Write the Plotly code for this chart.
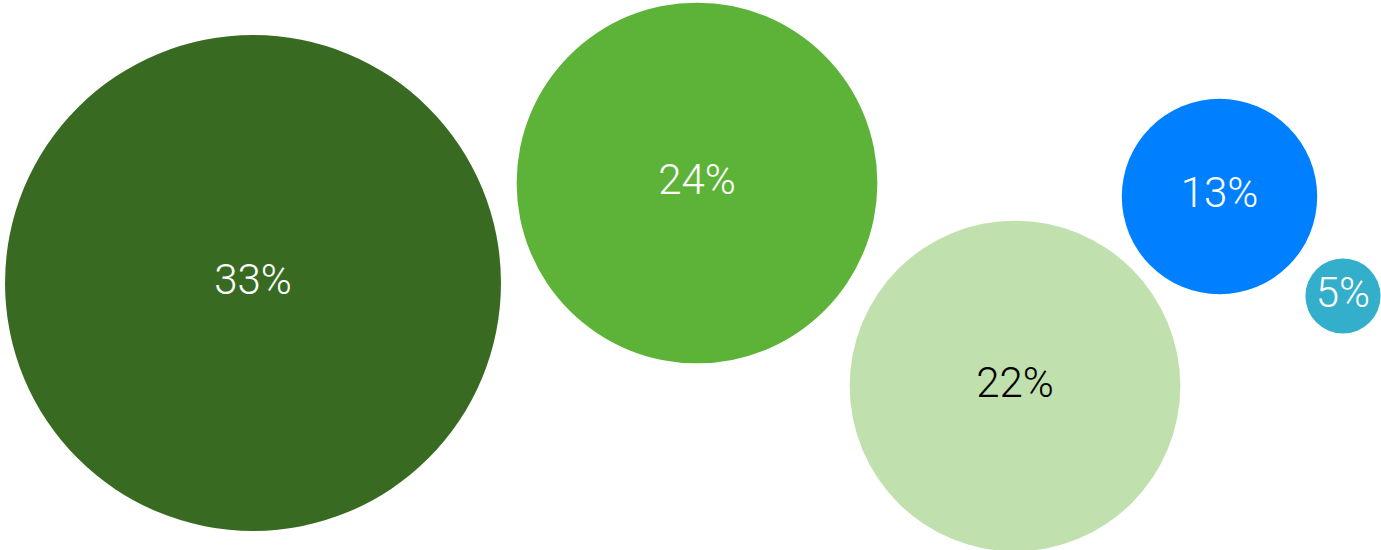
import plotly.graph_objects as go

# Data
labels = ["33%", "24%", "22%", "13%", "5%"]
values = [33, 24, 22, 13, 5]
x_pos = [253, 697, 1015, 1219.5, 1343]
y_pos = [283, 183, 386, 196.5, 296]

colors = ["#386b21", "#5db337", "#c0e1ae", "#0080ff", "#33aecb"]
text_colors = ["#ffffff", "#ffffff", "#000000", "#ffffff", "#ffffff"]

W, H = 1381, 550
px_per_unit = 15.03  # diameter in px per value unit

fig = go.Figure(
    go.Scatter(
        x=x_pos,
        y=y_pos,
        mode="markers+text",
        text=labels,
        textposition="middle center",
        textfont=dict(family="Roboto", size=42, color=text_colors, weight=300),
        marker=dict(
            size=values,
            sizemode="diameter",
            sizeref=1 / px_per_unit,
            color=colors,
            opacity=1,
            line=dict(width=0),
        ),
        hoverinfo="skip",
        cliponaxis=False,
    )
)

fig.update_layout(
    width=W,
    height=H,
    margin=dict(l=0, r=0, t=0, b=0),
    paper_bgcolor="white",
    plot_bgcolor="white",
    showlegend=False,
    xaxis=dict(range=[0, W], visible=False, fixedrange=True),
    yaxis=dict(range=[H, 0], visible=False, fixedrange=True),
)

fig.write_html("out.html")
